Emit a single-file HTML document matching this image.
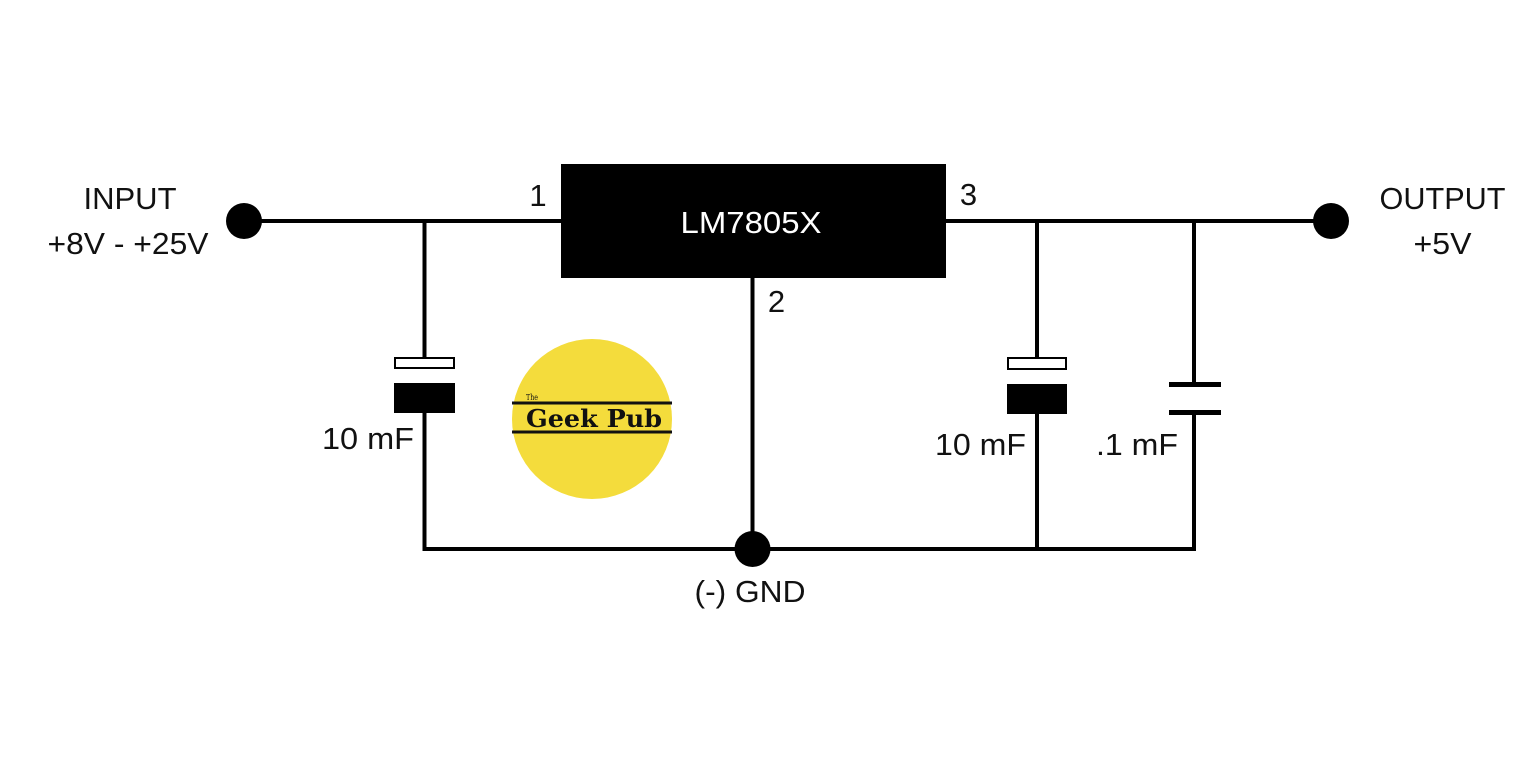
<!DOCTYPE html>
<html>
<head>
<meta charset="utf-8">
<style>
  html,body{margin:0;padding:0;background:#fff;}
  body{width:1537px;height:759px;overflow:hidden;}
  svg{display:block;}
  .t{font-family:"Liberation Sans",sans-serif;font-size:31px;fill:#111;}
</style>
</head>
<body>
<svg width="1537" height="759" viewBox="0 0 1537 759" xmlns="http://www.w3.org/2000/svg">
  <rect width="1537" height="759" fill="#fff"/>

  <!-- logo -->
  <circle cx="592" cy="419" r="80" fill="#f4dc3c"/>
  <line x1="512" y1="403" x2="672" y2="403" stroke="#111" stroke-width="3"/>
  <line x1="512" y1="432" x2="672" y2="432" stroke="#111" stroke-width="3"/>
  <text x="526" y="400" font-family="DejaVu Serif, serif" font-size="8" fill="#111" textLength="12" lengthAdjust="spacingAndGlyphs">The</text>
  <text x="526" y="427" font-family="DejaVu Serif, serif" font-size="24" font-weight="bold" fill="#111" textLength="136" lengthAdjust="spacingAndGlyphs">Geek Pub</text>

  <!-- wires -->
  <g fill="none" stroke="#000" stroke-width="4" stroke-linejoin="miter">
    <path d="M244 221 H562"/>
    <path d="M945 221 H1331"/>
    <path d="M424.5 221 V358"/>
    <path d="M424.5 412 V549 H1194 V412"/>
    <path d="M752.5 277 V549"/>
    <path d="M1037 221 V358"/>
    <path d="M1037 413 V549"/>
    <path d="M1194 221 V384"/>
  </g>

  <!-- IC -->
  <rect x="561" y="164" width="385" height="114" fill="#000"/>
  <text x="751" y="233" text-anchor="middle" font-family="Liberation Sans, sans-serif" font-size="31" fill="#fff" textLength="141" lengthAdjust="spacingAndGlyphs">LM7805X</text>

  <!-- left electrolytic cap -->
  <rect x="395" y="358" width="59" height="10" fill="#fff" stroke="#000" stroke-width="2"/>
  <rect x="394" y="383" width="61" height="30" fill="#000"/>

  <!-- right electrolytic cap -->
  <rect x="1008" y="358" width="58" height="11" fill="#fff" stroke="#000" stroke-width="2"/>
  <rect x="1007" y="384" width="60" height="30" fill="#000"/>

  <!-- ceramic cap -->
  <rect x="1169" y="382" width="52" height="5" fill="#000"/>
  <rect x="1169" y="410" width="52" height="5" fill="#000"/>

  <!-- dots -->
  <circle cx="244" cy="221" r="18" fill="#000"/>
  <circle cx="1331" cy="221" r="18" fill="#000"/>
  <circle cx="752.5" cy="549" r="18" fill="#000"/>

  <!-- labels -->
  <text class="t" x="130" y="209" text-anchor="middle" textLength="93" lengthAdjust="spacingAndGlyphs">INPUT</text>
  <text class="t" x="128" y="254" text-anchor="middle" textLength="161" lengthAdjust="spacingAndGlyphs">+8V - +25V</text>
  <text class="t" x="1442.5" y="209" text-anchor="middle" textLength="126" lengthAdjust="spacingAndGlyphs">OUTPUT</text>
  <text class="t" x="1442.5" y="254" text-anchor="middle" textLength="58" lengthAdjust="spacingAndGlyphs">+5V</text>
  <text class="t" x="538" y="206" text-anchor="middle">1</text>
  <text class="t" x="968.5" y="205" text-anchor="middle">3</text>
  <text class="t" x="776.5" y="312" text-anchor="middle">2</text>
  <text class="t" x="322" y="449" textLength="92" lengthAdjust="spacingAndGlyphs">10 mF</text>
  <text class="t" x="935" y="455" textLength="91" lengthAdjust="spacingAndGlyphs">10 mF</text>
  <text class="t" x="1096" y="455" textLength="82" lengthAdjust="spacingAndGlyphs">.1 mF</text>
  <text class="t" x="750" y="602" text-anchor="middle" textLength="111" lengthAdjust="spacingAndGlyphs">(-) GND</text>
</svg>
</body>
</html>
